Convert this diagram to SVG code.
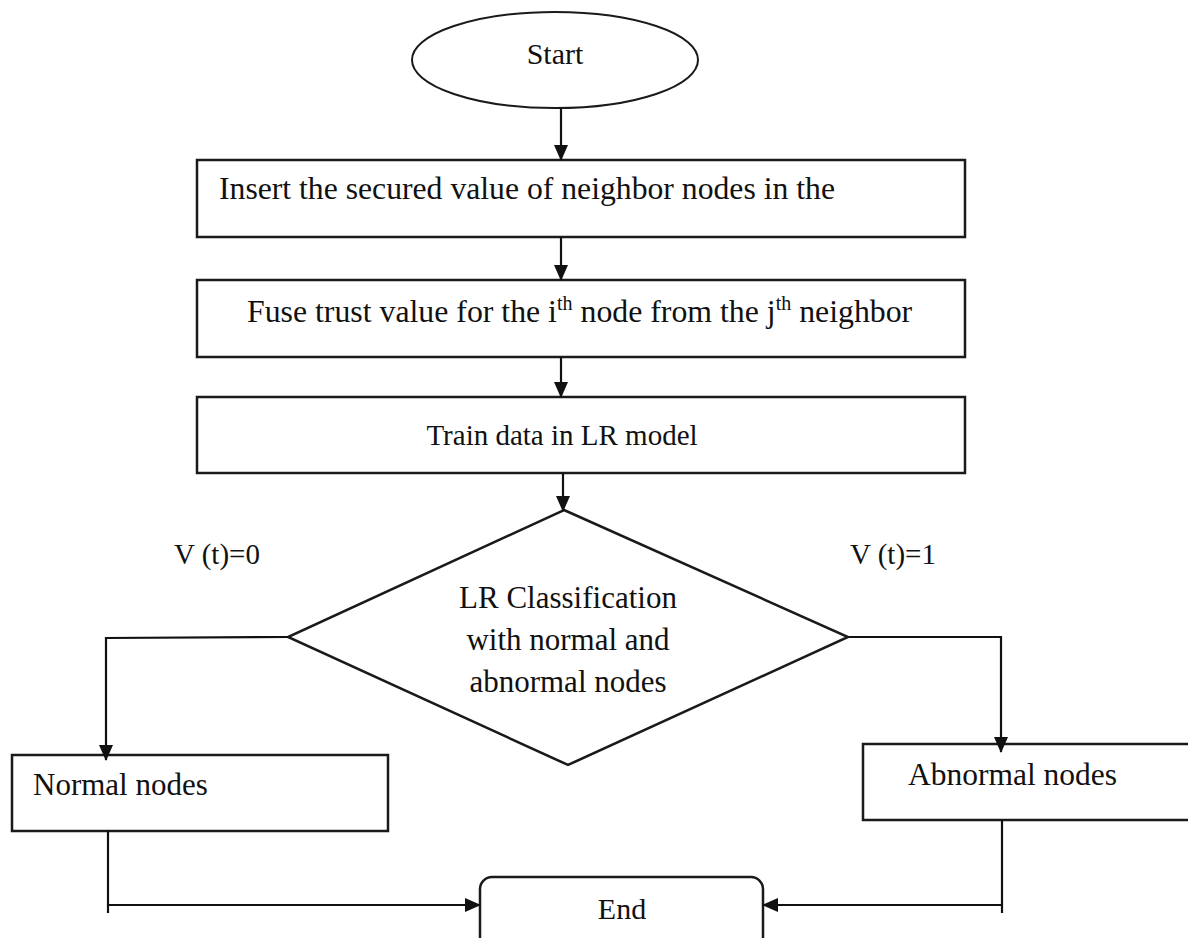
<svg xmlns="http://www.w3.org/2000/svg" width="1188" height="938" viewBox="0 0 1188 938">
<style>
.shape{fill:#fff;stroke:#1a1a1a;stroke-width:2.5}
.thin{stroke-width:2}
.t{font-family:"Liberation Serif","Times New Roman",serif;font-size:30px;fill:#111}
.c{text-anchor:middle}
.ln{fill:none;stroke:#111;stroke-width:2.2}
.sup{font-size:20px}
</style>
<defs>
<marker id="ah" viewBox="0 0 16 14" refX="15" refY="7" markerWidth="16" markerHeight="14" markerUnits="userSpaceOnUse" orient="auto">
<path d="M0,0 L16,7 L0,14 Z" fill="#111"/>
</marker>
</defs>
<rect width="1188" height="938" fill="#fff"/>
<g id="start">
<ellipse class="shape thin" cx="555" cy="60" rx="143" ry="48"/>
<text class="t c" x="555" y="64">Start</text>
</g>
<g id="insert">
<rect class="shape" x="197" y="160" width="768" height="77"/>
<text class="t" x="219" y="199" style="font-size:31.7px">Insert the secured value of neighbor nodes in the</text>
</g>
<g id="fuse">
<rect class="shape" x="197" y="280" width="768" height="77"/>
<text class="t" x="247" y="322" style="font-size:31.8px">Fuse trust value for the i<tspan class="sup" dy="-12">th</tspan><tspan dy="12"> node from the j</tspan><tspan class="sup" dy="-12">th</tspan><tspan dy="12"> neighbor</tspan></text>
</g>
<g id="train">
<rect class="shape" x="197" y="397" width="768" height="76"/>
<text class="t c" x="562" y="445" style="font-size:29px">Train data in LR model</text>
</g>
<g id="decision">
<polygon class="shape" points="564,510 848,637 568,765 288,637"/>
<text class="t c" x="568" y="608" style="font-size:31px">LR Classification</text>
<text class="t c" x="568" y="650" style="font-size:31px">with normal and</text>
<text class="t c" x="568" y="692" style="font-size:31px">abnormal nodes</text>
</g>
<g id="normal">
<rect class="shape" x="12" y="755" width="376" height="76"/>
<text class="t" x="33" y="795" style="font-size:31px">Normal nodes</text>
</g>
<g id="abnormal">
<rect class="shape" x="863" y="744" width="340" height="76"/>
<text class="t" x="908" y="785" style="font-size:31.5px">Abnormal nodes</text>
</g>
<g id="end">
<rect class="shape" x="480" y="877" width="283" height="90" rx="12"/>
<text class="t c" x="622" y="919">End</text>
</g>
<g id="labels">
<text class="t" x="174" y="564" style="font-size:29px">V (t)=0</text>
<text class="t" x="850" y="564" style="font-size:29px">V (t)=1</text>
</g>
<g id="connectors">
<line class="ln" x1="561" y1="108" x2="561" y2="160" marker-end="url(#ah)"/>
<line class="ln" x1="561" y1="237" x2="561" y2="280" marker-end="url(#ah)"/>
<line class="ln" x1="561" y1="357" x2="561" y2="397" marker-end="url(#ah)"/>
<line class="ln" x1="563" y1="473" x2="563" y2="511" marker-end="url(#ah)"/>
<polyline class="ln" points="288,637 106,638 106,760" marker-end="url(#ah)"/>
<polyline class="ln" points="848,637 1001,637 1001,752" marker-end="url(#ah)"/>
<line class="ln" x1="108" y1="831" x2="108" y2="913"/>
<line class="ln" x1="108" y1="905" x2="480" y2="905" marker-end="url(#ah)"/>
<line class="ln" x1="1002" y1="820" x2="1002" y2="913"/>
<line class="ln" x1="1002" y1="905" x2="763" y2="905" marker-end="url(#ah)"/>
</g>
</svg>
